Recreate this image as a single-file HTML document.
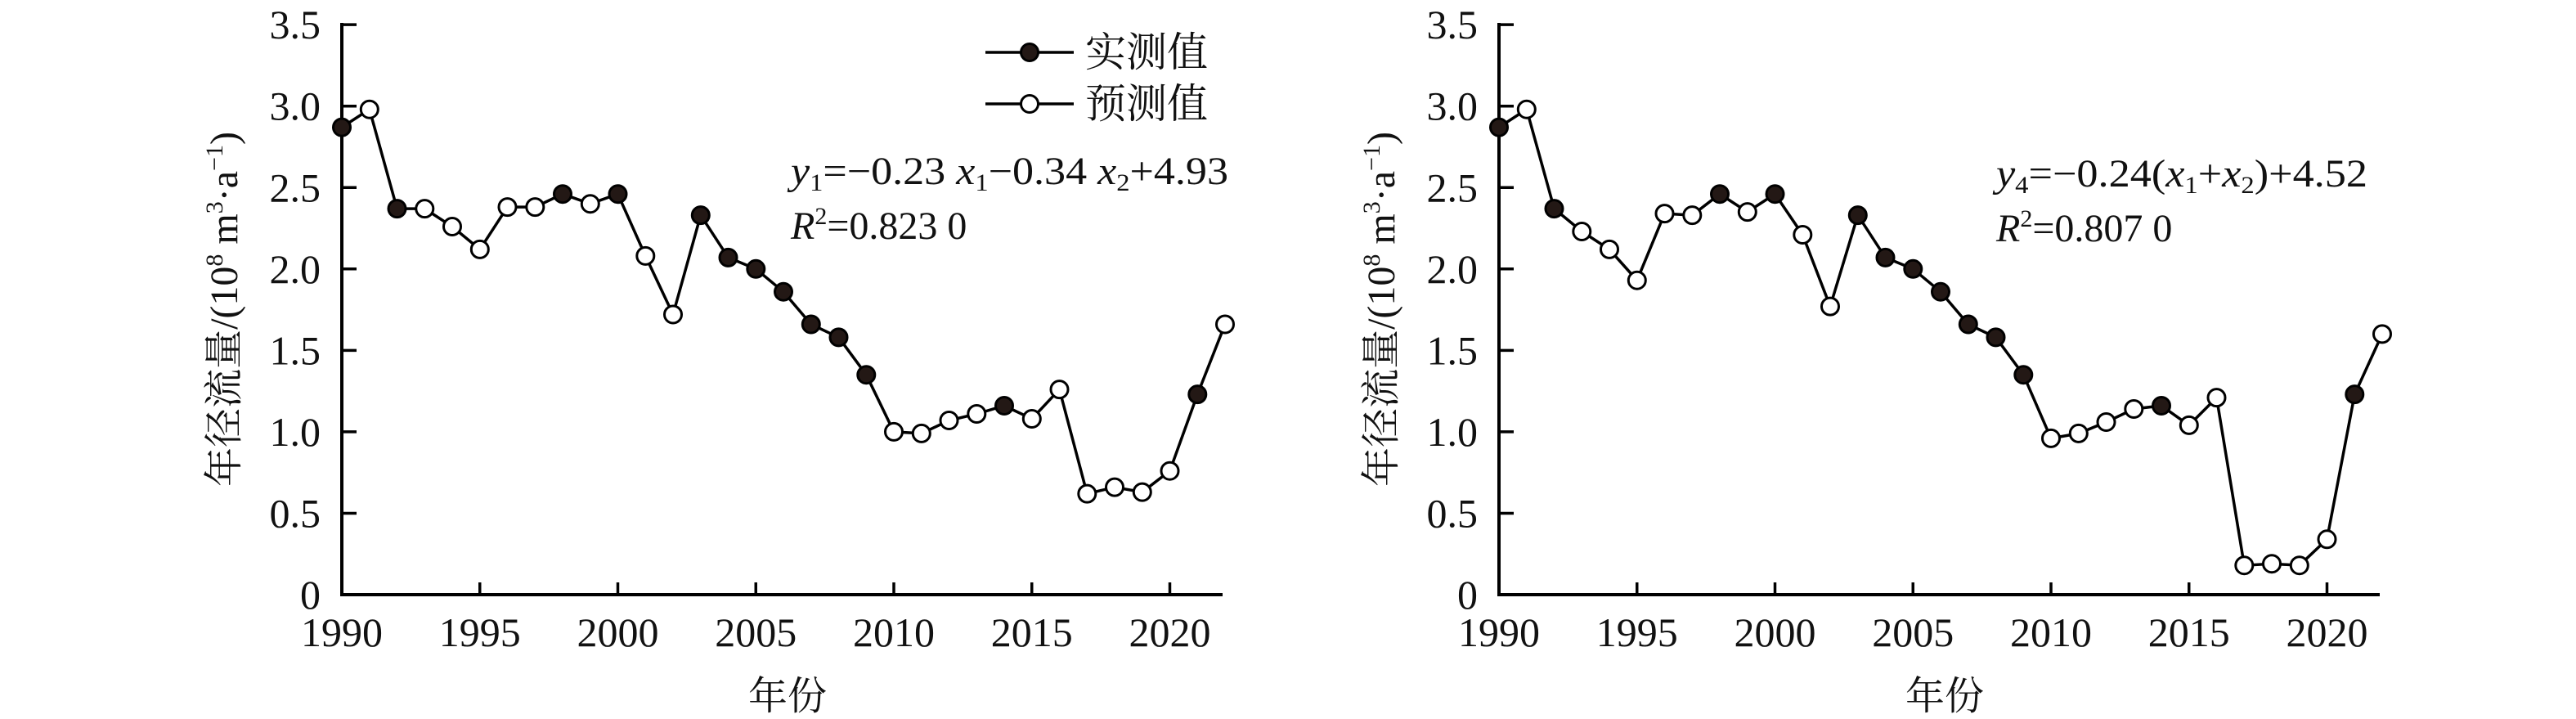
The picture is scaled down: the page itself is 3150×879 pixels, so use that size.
<!DOCTYPE html>
<html><head><meta charset="utf-8"><style>
html,body{margin:0;padding:0;background:#fff;}
svg{display:block;}
svg text{font-family:"Liberation Serif","Times New Roman","Noto Serif CJK SC",serif !important;fill:#111;}
</style></head><body>
<svg id="s" width="3150" height="879" xmlns="http://www.w3.org/2000/svg" font-family="Liberation Serif, Noto Serif CJK SC, serif" style="font-family:'Liberation Serif','Noto Serif CJK SC',serif"></svg>
<script>
var S=document.getElementById('s'),h='';
var act={1990:2.87,1992:2.37,1998:2.46,2000:2.46,2003:2.33,2004:2.07,2005:2.00,2006:1.86,2007:1.66,2008:1.58,2009:1.35,2014:1.16,2021:1.23};
var p1={1991:2.98,1993:2.37,1994:2.26,1995:2.12,1996:2.38,1997:2.38,1999:2.40,2001:2.08,2002:1.72,2010:1.00,2011:0.99,2012:1.07,2013:1.11,2015:1.08,2016:1.26,2017:0.62,2018:0.66,2019:0.63,2020:0.76,2022:1.66};
var p2={1991:2.98,1993:2.23,1994:2.12,1995:1.93,1996:2.34,1997:2.33,1999:2.35,2001:2.21,2002:1.77,2010:0.96,2011:0.99,2012:1.06,2013:1.14,2015:1.04,2016:1.21,2017:0.18,2018:0.19,2019:0.18,2020:0.34,2022:1.60};
var F=' font-family="Liberation Serif, Noto Serif CJK SC, serif"';
function panel(ox,pred){
 var X0=418+ox,Y0=727,dx=33.75,dy=199.1;
 function px(y){return X0+(y-1990)*dx;} function py(v){return Y0-v*dy;}
 h+='<path d="M'+X0+' 28 V'+Y0+' H'+(X0+1077)+'" fill="none" stroke="#000" stroke-width="4"/>';
 for(var i=1;i<=7;i++){var y=py(i*0.5);h+='<line x1="'+X0+'" y1="'+y+'" x2="'+(X0+18)+'" y2="'+y+'" stroke="#000" stroke-width="3.5"/>';}
 for(var i=0;i<=7;i++){var y=py(i*0.5);h+='<text'+F+' x="'+(X0-26)+'" y="'+(y+17)+'" font-size="50" text-anchor="end">'+(i==0?'0':(i*0.5).toFixed(1))+'</text>';}
 for(var yr=1995;yr<=2020;yr+=5){var x=px(yr);h+='<line x1="'+x+'" y1="'+Y0+'" x2="'+x+'" y2="'+(Y0-15)+'" stroke="#000" stroke-width="3.5"/>';}
 for(var yr=1990;yr<=2020;yr+=5){h+='<text'+F+' x="'+px(yr)+'" y="'+(Y0+63)+'" font-size="50" text-anchor="middle">'+yr+'</text>';}
 h+='<text'+F+' x="'+(X0+545)+'" y="'+(Y0+140)+'" font-size="48" text-anchor="middle">年份</text>';
 h+='<text'+F+' transform="translate('+(X0-128)+',378) rotate(-90)" font-size="48" text-anchor="middle">年径流量/(10<tspan font-size="30" dy="-18">8</tspan><tspan dy="18"> m</tspan><tspan font-size="30" dy="-18">3</tspan><tspan dy="18">·a</tspan><tspan font-size="30" dy="-18">−1</tspan><tspan dy="18">)</tspan></text>';
 var pts=[],d='';
 for(var yr=1990;yr<=2022;yr++){var v=act[yr]!==undefined?act[yr]:pred[yr];pts.push([px(yr),py(v),act[yr]!==undefined]);}
 pts.forEach(function(p,i){d+=(i?'L':'M')+p[0].toFixed(1)+' '+p[1].toFixed(1);});
 h+='<path d="'+d+'" fill="none" stroke="#000" stroke-width="3.5"/>';
 pts.forEach(function(p){h+='<circle cx="'+p[0].toFixed(1)+'" cy="'+p[1].toFixed(1)+'" r="10.5" fill="'+(p[2]?'#231815':'#fff')+'" stroke="#000" stroke-width="3"/>';});
}
panel(0,p1);panel(1415,p2);
h+='<line x1="1205" y1="64" x2="1313" y2="64" stroke="#000" stroke-width="3.5"/><circle cx="1259" cy="64" r="10.5" fill="#231815" stroke="#000" stroke-width="3"/>';
h+='<line x1="1205" y1="127" x2="1313" y2="127" stroke="#000" stroke-width="3.5"/><circle cx="1259" cy="127" r="10.5" fill="#fff" stroke="#000" stroke-width="3"/>';
h+='<text'+F+' x="1327" y="81" font-size="50">实测值</text><text'+F+' x="1327" y="144" font-size="50">预测值</text>';
h+='<text'+F+' x="967" y="225" font-size="48" textLength="535" lengthAdjust="spacingAndGlyphs"><tspan font-style="italic">y</tspan><tspan font-size="30" dy="8">1</tspan><tspan dy="-8">=−0.23 </tspan><tspan font-style="italic">x</tspan><tspan font-size="30" dy="8">1</tspan><tspan dy="-8">−0.34 </tspan><tspan font-style="italic">x</tspan><tspan font-size="30" dy="8">2</tspan><tspan dy="-8">+4.93</tspan></text>';
h+='<text'+F+' x="967" y="292" font-size="48"><tspan font-style="italic">R</tspan><tspan font-size="30" dy="-18">2</tspan><tspan dy="18">=0.823 0</tspan></text>';
h+='<text'+F+' x="2441" y="228" font-size="48" textLength="454" lengthAdjust="spacingAndGlyphs"><tspan font-style="italic">y</tspan><tspan font-size="30" dy="8">4</tspan><tspan dy="-8">=−0.24(</tspan><tspan font-style="italic">x</tspan><tspan font-size="30" dy="8">1</tspan><tspan dy="-8">+</tspan><tspan font-style="italic">x</tspan><tspan font-size="30" dy="8">2</tspan><tspan dy="-8">)+4.52</tspan></text>';
h+='<text'+F+' x="2441" y="295" font-size="48"><tspan font-style="italic">R</tspan><tspan font-size="30" dy="-18">2</tspan><tspan dy="18">=0.807 0</tspan></text>';
S.innerHTML=h;
</script>
</body></html>
